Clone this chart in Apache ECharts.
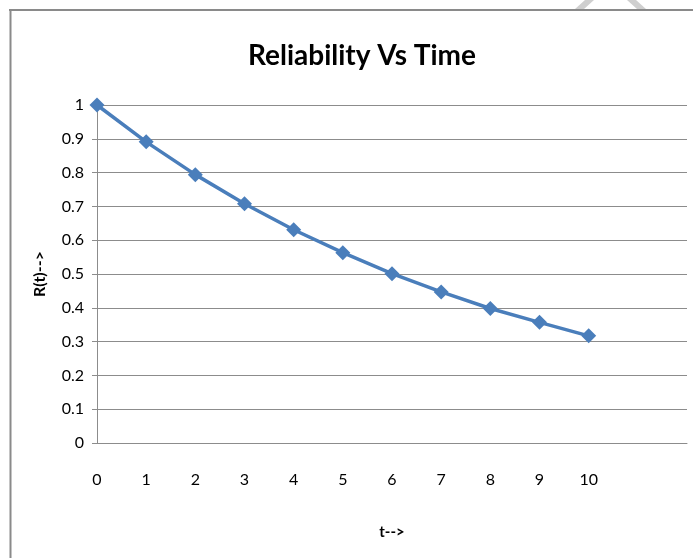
<!DOCTYPE html>
<html>
<head>
<meta charset="utf-8">
<script src="https://cdn.jsdelivr.net/npm/echarts@6/dist/echarts.min.js"></script>
<style>html,body{margin:0;padding:0;background:#fff}#c{width:693px;height:558px}</style>
</head>
<body>
<div id="c"></div>
<script>
const categories = ['0','1','2','3','4','5','6','7','8','9','10','',''];
const reliability = [1, 0.891, 0.794, 0.708, 0.631, 0.563, 0.501, 0.447, 0.398, 0.357, 0.317];
const yTicks = [0, 0.1, 0.2, 0.3, 0.4, 0.5, 0.6, 0.7, 0.8, 0.9, 1];
const titleText = 'Reliability Vs Time';
const xName = 't-->';
const yName = 'R(t)-->';

const FONT = 'Lato, "Open Sans", sans-serif';
const chart = echarts.init(document.getElementById('c'));
chart.setOption({
  animation: false,
  backgroundColor: '#fff',
  title: {
    text: titleText, left: 357, top: 37, textAlign: 'center',
    textStyle: { fontFamily: FONT, fontWeight: 'bold', fontSize: 28, color: '#000' }
  },
  grid: { left: 97, right: 6, top: 105, bottom: 115, containLabel: false },
  xAxis: {
    type: 'category', data: categories, boundaryGap: false,
    name: xName, nameLocation: 'middle', nameGap: 82,
    nameTextStyle: { fontFamily: FONT, fontWeight: 'bold', fontSize: 15, color: '#000' },
    axisLine: { lineStyle: { color: '#8c8c8c', width: 1 } },
    axisTick: { show: false },
    axisLabel: { interval: 0, margin: 29, fontFamily: FONT, fontSize: 16, color: '#000' },
    splitLine: { show: false }
  },
  yAxis: {
    type: 'value', min: 0, max: 1, interval: 0.1,
    name: yName, nameLocation: 'middle', nameGap: 49, nameRotate: 90,
    nameTextStyle: { fontFamily: FONT, fontWeight: 'bold', fontSize: 16, color: '#000' },
    axisLine: { show: true, lineStyle: { color: '#8c8c8c', width: 1 } },
    axisTick: { show: true, length: 5, lineStyle: { color: '#8c8c8c' } },
    axisLabel: {
      margin: 13, fontFamily: FONT, fontSize: 16, color: '#000',
      formatter: v => { const t = yTicks.find(x => Math.abs(x - v) < 1e-9); return t === undefined ? '' : String(t); }
    },
    splitLine: { show: true, lineStyle: { color: '#8c8c8c', width: 1 } }
  },
  series: [{
    type: 'line', data: reliability,
    symbol: 'diamond', symbolSize: 15, showSymbol: true,
    lineStyle: { color: '#4a7ebb', width: 3.5 },
    itemStyle: { color: '#4a7ebb' }
  }],
  graphic: [
    { type: 'polygon', shape: { points: [[575, 9], [584, 9], [594, 0], [585, 0]] }, style: { fill: '#cfcfcf' }, silent: true },
    { type: 'polygon', shape: { points: [[627, 0], [636, 0], [646, 9], [637, 9]] }, style: { fill: '#cfcfcf' }, silent: true },
    { type: 'line', shape: { x1: 9, y1: 10, x2: 693, y2: 10 }, style: { stroke: '#8a8a8a', lineWidth: 2 }, silent: true },
    { type: 'line', shape: { x1: 10.5, y1: 9, x2: 10.5, y2: 558 }, style: { stroke: '#8a8a8a', lineWidth: 2 }, silent: true }
  ]
});
</script>
</body>
</html>
